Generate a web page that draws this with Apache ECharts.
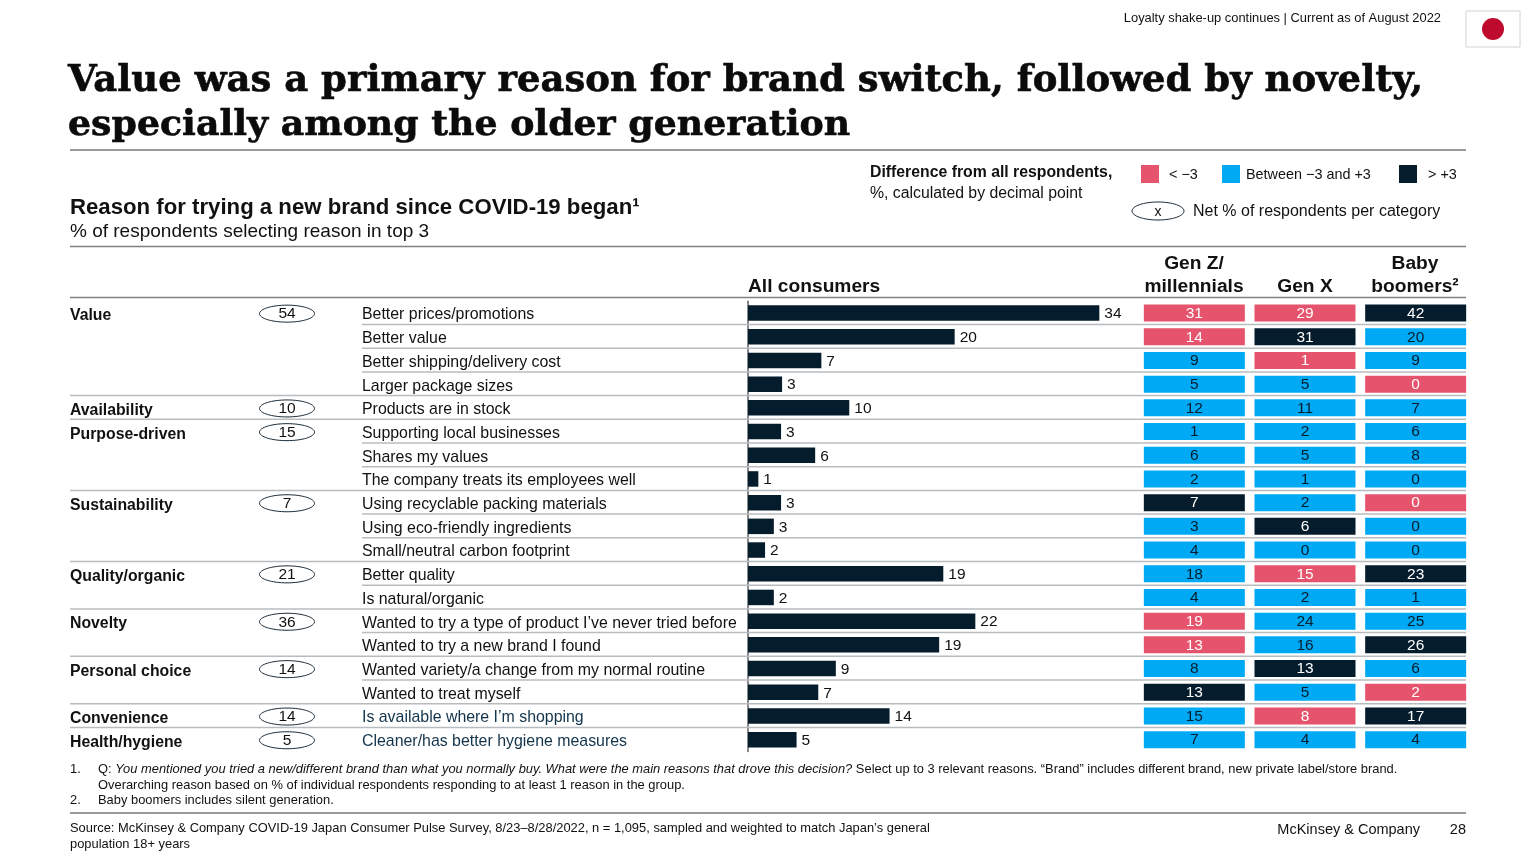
<!DOCTYPE html>
<html>
<head>
<meta charset="utf-8">
<title>Brand switch reasons</title>
<script src="https://cdn.jsdelivr.net/npm/echarts@6/dist/echarts.min.js"></script>
<style>
html,body{margin:0;padding:0;background:#fff}
#main{width:1536px;height:864px}
</style>
</head>
<body>
<div id="main"></div>
<script>
var reasons = ['Better prices/promotions','Better value','Better shipping/delivery cost','Larger package sizes','Products are in stock','Supporting local businesses','Shares my values','The company treats its employees well','Using recyclable packing materials','Using eco-friendly ingredients','Small/neutral carbon footprint','Better quality','Is natural/organic','Wanted to try a type of product I\u2019ve never tried before','Wanted to try a new brand I found','Wanted variety/a change from my normal routine','Wanted to treat myself','Is available where I\u2019m shopping','Cleaner/has better hygiene measures'];
// bar lengths keep the decimals, labels are the rounded figures printed on the slide
var allBars = [34,20,7.1,3.3,9.8,3.2,6.5,1,3.2,2.5,1.65,18.9,2.5,22,18.5,8.5,6.8,13.7,4.7];
var allLabels = [34,20,7,3,10,3,6,1,3,3,2,19,2,22,19,9,7,14,5];

var groupNames = ['Value','Availability','Purpose-driven','Sustainability','Quality/organic','Novelty','Personal choice','Convenience','Health/hygiene'];
var groupNets = [54,10,15,7,21,36,14,14,5];
var groupSizes = [4,1,3,3,2,2,2,1,1];

var generations = ['Gen Z/millennials','Gen X','Baby boomers'];
var genZ = [31,14,9,5,12,1,6,2,7,3,4,18,4,19,13,8,13,15,7];
var genX = [29,31,1,5,11,2,5,1,2,6,0,15,2,24,16,13,5,8,4];
var boomers = [42,20,9,0,7,6,8,0,0,0,0,23,1,25,26,6,2,17,4];
// L = below -3, M = between, H = above +3
var genZClass = 'LLMMMMMMHMMMMLLMHMM'.split('');
var genXClass = 'LHLMMMMMMHMLMMMHMLM'.split('');
var boomersClass = 'HMMLMMMMLMMHMMHMLHM'.split('');

var NAVY = '#051C2C', BLUE = '#00A9F4', RED = '#E5546C', RULE = '#b9bcbf', FONT = '"Liberation Sans", Arial, sans-serif';
var classColor = {L:RED, M:BLUE, H:NAVY};
var textColor = {L:'#fff', M:NAVY, H:'#fff'};

var heatData = [];
[[genZ,genZClass],[genX,genXClass],[boomers,boomersClass]].forEach(function(col,c){
    col[0].forEach(function(v,r){ heatData.push([c,r,v,col[1][r]]); });
});

var groupStart = [], groupEnd = {}, n = 0;
groupSizes.forEach(function(s,i){ groupStart.push(n); n += s; groupEnd[n-1] = true; });

function txt(x,y,text,size,o){
    o = o || {};
    var style = {x:x,y:y,text:text,fill:o.color||'#111',font:(o.weight||'normal')+' '+size+'px '+(o.family||FONT),
        textAlign:o.align||'left',textVerticalAlign:'middle',rich:o.rich};
    if(o.stroke){ style.stroke = o.color||'#111'; style.lineWidth = o.stroke; }
    return {type:'text',silent:true,style:style};
}
function rule(x1,x2,y,c,w){
    return {type:'line',silent:true,shape:{x1:x1,y1:y,x2:x2,y2:y},style:{stroke:c||'#7d8184',lineWidth:w||1.5}};
}
function swatch(x,c){
    return {type:'rect',silent:true,shape:{x:x,y:165,width:18,height:18},style:{fill:c}};
}
function oval(cx,cy,rx,ry){
    return {type:'ellipse',silent:true,shape:{cx:cx,cy:cy,rx:rx,ry:ry},style:{fill:'#fff',stroke:'#1a2a36',lineWidth:1}};
}

var TITLE_FONT = '"DejaVu Serif", serif';
var FOOT = 12.9;
var graphics = [
    txt(1441,18,'Loyalty shake-up continues | Current as of August 2022',FOOT,{align:'right'}),
    {type:'rect',silent:true,shape:{x:1466,y:11,width:54,height:36},style:{fill:'#fff',stroke:'#d2d2d2',lineWidth:1}},
    {type:'circle',silent:true,shape:{cx:1493,cy:29,r:11},style:{fill:'#BE0A2C'}},
    txt(68,81,'Value was a primary reason for brand switch, followed by novelty,',37,{weight:'bold',family:TITLE_FONT,color:'#0b0b0b',stroke:0.6}),
    txt(68,126,'especially among the older generation',36.3,{weight:'bold',family:TITLE_FONT,color:'#0b0b0b',stroke:0.6}),
    rule(70,1466,150,'#33383c',1),
    txt(70,208,'Reason for trying a new brand since COVID-19 began\u00b9',22.2,{weight:'bold'}),
    txt(70,232,'% of respondents selecting reason in top 3',19),
    txt(870,173,'Difference from all respondents,',15.8,{weight:'bold'}),
    txt(870,193.5,'%, calculated by decimal point',15.8),
    swatch(1141,RED),txt(1169,175,'< \u22123',14.4),
    swatch(1222,BLUE),txt(1246,175,'Between \u22123 and +3',14.4),
    swatch(1399,NAVY),txt(1428,175,'> +3',14.4),
    oval(1158,211,26,9),txt(1158,212,'x',14,{align:'center'}),
    txt(1193,212,'Net % of respondents per category',16),
    rule(70,1466,246.5),
    txt(748,286.5,'All consumers',19.2,{weight:'bold'}),
    txt(1194,263.5,'Gen Z/',19.2,{weight:'bold',align:'center'}),
    txt(1194,286.5,'millennials',19.2,{weight:'bold',align:'center'}),
    txt(1305,286.5,'Gen X',19.2,{weight:'bold',align:'center'}),
    txt(1415,263.5,'Baby',19.2,{weight:'bold',align:'center'}),
    txt(1415,286.5,'boomers\u00b2',19.2,{weight:'bold',align:'center'}),
    rule(70,1466,297.5),
    txt(70,769.5,'1.',FOOT),
    txt(98,769.5,'{n|Q: }{i|You mentioned you tried a new/different brand than what you normally buy. What were the main reasons that drove this decision?}{n| Select up to 3 relevant reasons. \u201cBrand\u201d includes different brand, new private label/store brand.}',FOOT,{rich:{
        n:{font:'normal '+FOOT+'px '+FONT,fill:'#111'},i:{font:'italic '+FOOT+'px '+FONT,fill:'#111'}}}),
    txt(98,785,'Overarching reason based on % of individual respondents responding to at least 1 reason in the group.',FOOT),
    txt(70,800,'2.',FOOT),
    txt(98,800,'Baby boomers includes silent generation.',FOOT),
    rule(70,1466,813,'#33383c',1),
    txt(70,828.5,'Source: McKinsey & Company COVID-19 Japan Consumer Pulse Survey, 8/23\u20138/28/2022, n = 1,095, sampled and weighted to match Japan\u2019s general',FOOT),
    txt(70,844.5,'population 18+ years',FOOT),
    txt(1420,830,'McKinsey & Company',14.5,{align:'right'}),
    txt(1466,830,'28',14.5,{align:'right'})
];

function renderRules(params,api){
    var r = api.value(1);
    if(r === reasons.length-1) return;
    var p = api.coord([api.value(0),r]), h = api.size([0,1])[1];
    var cs = params.coordSys;
    return {type:'line',silent:true,shape:{x1:p[0],y1:p[1]+h/2,x2:cs.x+cs.width,y2:p[1]+h/2},style:{stroke:RULE,lineWidth:1.5}};
}
function renderGroups(params,api){
    var i = params.dataIndex, p = api.coord([0,api.value(0)]);
    var y = p[1];
    return {type:'group',children:[
        {type:'text',silent:true,style:{x:p[0],y:y+3,text:groupNames[i],fill:'#111',font:'bold 15.8px '+FONT,textVerticalAlign:'middle'}},
        {type:'ellipse',silent:true,shape:{cx:p[0]+217,cy:y+1,rx:27.5,ry:8.5},style:{fill:'#fff',stroke:'#1a2a36',lineWidth:1}},
        {type:'text',silent:true,style:{x:p[0]+217,y:y+1.5,text:String(groupNets[i]),fill:'#111',font:'normal 15.5px '+FONT,textAlign:'center',textVerticalAlign:'middle'}}
    ]};
}
function renderCells(params,api){
    var p = api.coord([api.value(0),api.value(1)]);
    var d = heatData[params.dataIndex], w = 101, h = 17;
    return {type:'group',children:[
        {type:'rect',shape:{x:p[0]-w/2,y:p[1]-h/2,width:w,height:h},style:{fill:classColor[d[3]]}},
        {type:'text',silent:true,style:{x:p[0],y:p[1]+0.5,text:String(d[2]),fill:textColor[d[3]],font:'normal 15.5px '+FONT,textAlign:'center',textVerticalAlign:'middle'}}
    ]};
}

var myChart = echarts.init(document.getElementById('main'));
var option = {
    backgroundColor:'#fff',
    animation:false,
    textStyle:{fontFamily:FONT},
    grid:[
        {left:748,top:301.2,width:372,height:450.3},
        {left:70,top:300.8,width:1396,height:450.3},
        {left:1139,top:301.2,width:332,height:450.3}
    ],
    xAxis:[
        {gridIndex:0,type:'value',min:0,max:36,show:false},
        {gridIndex:1,type:'value',min:0,max:1396,show:false},
        {gridIndex:2,type:'category',data:generations,show:false}
    ],
    yAxis:[
        {gridIndex:0,type:'category',inverse:true,data:reasons,
            axisLine:{show:true,onZero:false,lineStyle:{color:'#5f6468',width:1.5}},axisTick:{show:false},
            axisLabel:{align:'left',margin:386,interval:0,
                formatter:function(v,i){ return (i >= reasons.length-2 ? '{b|' : '{a|')+v+'}'; },
                rich:{
                    a:{fontSize:15.9,color:'#111',fontFamily:FONT,padding:[4,0,0,0]},
                    b:{fontSize:15.9,color:'#12334a',fontFamily:FONT,padding:[4,0,0,0]}
                }}},
        {gridIndex:1,type:'category',inverse:true,data:reasons,show:false},
        {gridIndex:2,type:'category',inverse:true,data:reasons,show:false}
    ],
    series:[
        {type:'custom',name:'rules',xAxisIndex:1,yAxisIndex:1,z:1,renderItem:renderRules,
            data:reasons.map(function(r,i){ return [groupEnd[i] ? 0 : 292,i]; }),silent:true},
        {type:'bar',name:'All consumers',xAxisIndex:0,yAxisIndex:0,z:3,barWidth:15.5,data:allBars,
            itemStyle:{color:NAVY},
            label:{show:true,position:'right',distance:5,offset:[0,1],fontSize:15.5,color:'#111',fontFamily:FONT,
                formatter:function(p){ return allLabels[p.dataIndex]; }}},
        {type:'custom',name:'groups',xAxisIndex:1,yAxisIndex:1,z:3,renderItem:renderGroups,
            data:groupStart.map(function(s){ return [s]; }),encode:{y:0},silent:true},
        {type:'custom',name:'generations',xAxisIndex:2,yAxisIndex:2,z:3,renderItem:renderCells,
            data:heatData.map(function(d){ return [d[0],d[1],d[2]]; }),encode:{x:0,y:1},silent:true}
    ],
    graphic:{elements:graphics}
};
myChart.setOption(option);
</script>
</body>
</html>
